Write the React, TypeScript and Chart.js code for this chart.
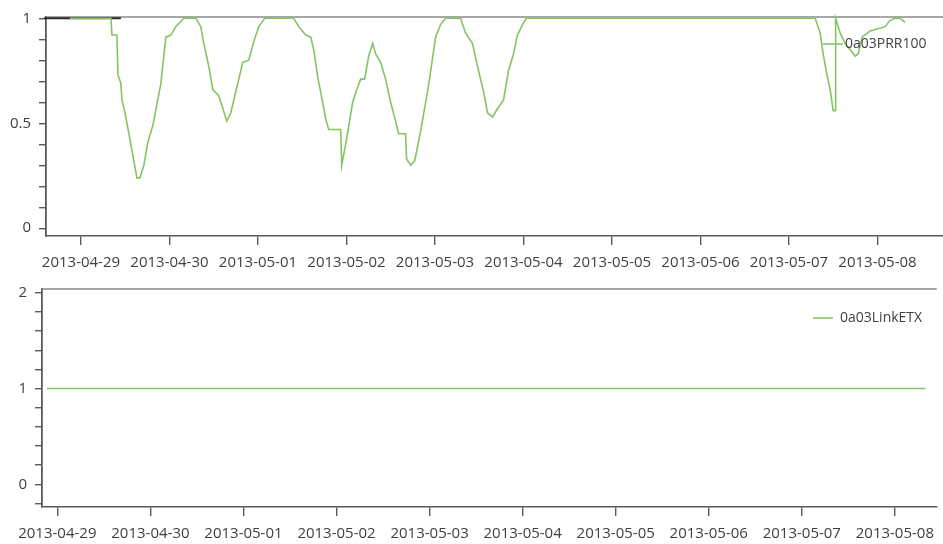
import React, { useEffect, useRef } from "react";
import { Chart, registerables } from "chart.js";

Chart.register(...registerables);

// ---- data ----
const DAY_TICKS = [0, 1, 2, 3, 4, 5, 6, 7, 8, 9];
const DAY_LABELS = [
  "2013-04-29", "2013-04-30", "2013-05-01", "2013-05-02", "2013-05-03",
  "2013-05-04", "2013-05-05", "2013-05-06", "2013-05-07", "2013-05-08",
];

const PRR_LABEL = "0a03PRR100";
// days since 2013-04-29 00:00
const PRR_DAYS = [
  -0.124, 0.339, 0.350, 0.406, 0.418, 0.451, 0.463, 0.497, 0.542, 0.598,
  0.632, 0.666, 0.711, 0.756, 0.813, 0.903, 0.959, 1.016, 1.072, 1.163,
  1.298, 1.354, 1.388, 1.445, 1.490, 1.558, 1.603, 1.648, 1.693, 1.749,
  1.828, 1.896, 1.953, 2.009, 2.077, 2.404, 2.460, 2.540, 2.596, 2.630,
  2.675, 2.731, 2.765, 2.799, 2.935, 2.946, 2.991, 3.070, 3.115, 3.160,
  3.205, 3.251, 3.296, 3.330, 3.386, 3.442, 3.499, 3.555, 3.589, 3.668,
  3.679, 3.725, 3.770, 3.837, 3.928, 4.007, 4.063, 4.120, 4.289, 4.345,
  4.424, 4.492, 4.549, 4.594, 4.650, 4.707, 4.774, 4.831, 4.887, 4.932,
  4.989, 5.034, 8.296, 8.352, 8.386, 8.420, 8.465, 8.499, 8.521, 8.527,
  8.578, 8.634, 8.691, 8.747, 8.781, 8.826, 8.916, 9.007, 9.086, 9.142,
  9.199, 9.255, 9.312,
];
const PRR_VALUES = [
  1.0, 1.0, 0.92, 0.92, 0.73, 0.69, 0.61, 0.55, 0.45, 0.32,
  0.24, 0.24, 0.30, 0.41, 0.49, 0.69, 0.91, 0.92, 0.96, 1.0,
  1.0, 0.96, 0.88, 0.77, 0.66, 0.63, 0.57, 0.51, 0.55, 0.65,
  0.79, 0.80, 0.89, 0.96, 1.0, 1.0, 0.96, 0.92, 0.91, 0.85,
  0.72, 0.60, 0.52, 0.47, 0.47, 0.30, 0.40, 0.60, 0.66, 0.71,
  0.71, 0.82, 0.88, 0.83, 0.79, 0.71, 0.60, 0.51, 0.45, 0.45,
  0.33, 0.30, 0.32, 0.46, 0.68, 0.91, 0.97, 1.0, 1.0, 0.93,
  0.88, 0.75, 0.65, 0.55, 0.53, 0.57, 0.61, 0.75, 0.83, 0.92,
  0.97, 1.0, 1.0, 0.93, 0.83, 0.75, 0.66, 0.56, 0.56, 1.0,
  0.93, 0.88, 0.85, 0.82, 0.83, 0.91, 0.94, 0.95, 0.96, 0.99,
  1.0, 1.0, 0.98,
];

const MARKER_DAYS = [-0.418, 0.451];
const MARKER_VALUES = [1, 1];

const ETX_LABEL = "0a03LinkETX";
const ETX_DAYS = [-0.112, 9.328];
const ETX_VALUES = [1, 1];

const PRR_Y_TICKS = [0, 0.1, 0.2, 0.3, 0.4, 0.5, 0.6, 0.7, 0.8, 0.9, 1];
const PRR_Y_LABELS = ["0", "0.5", "1"];
const ETX_Y_TICKS = [-0.2, 0, 0.2, 0.4, 0.6, 0.8, 1, 1.2, 1.4, 1.6, 1.8, 2];
const ETX_Y_LABELS = ["0", "1", "2"];

// ---- styles ----
const GREEN = "#84c462";
const AXIS = "#5a5a5a";
const TOP_BORDER = "#8a8a8a";
const TEXT = "#3f3f3f";
const FONT = "'Open Sans', 'Noto Sans', sans-serif";

const pts = (xs: number[], ys: number[]) => xs.map((x, i) => ({ x, y: ys[i] }));

const decorPlugin = {
  id: "panelDecor",
  beforeDatasetsDraw(chart: any) {
    const { ctx, chartArea } = chart;
    ctx.save();
    ctx.strokeStyle = TOP_BORDER;
    ctx.lineWidth = 1.6;
    ctx.beginPath();
    ctx.moveTo(chartArea.left, chartArea.top);
    ctx.lineTo(chartArea.right, chartArea.top);
    ctx.stroke();
    ctx.restore();
  },
  afterDatasetsDraw(chart: any, _args: any, opts: any) {
    const { ctx } = chart;
    const ds = chart.data.datasets[0];
    ctx.save();
    ctx.strokeStyle = ds.borderColor;
    ctx.lineWidth = 1.6;
    ctx.beginPath();
    ctx.moveTo(opts.lineX, opts.y);
    ctx.lineTo(opts.lineX + opts.lineLen, opts.y);
    ctx.stroke();
    ctx.fillStyle = TEXT;
    ctx.font = `14px ${FONT}`;
    ctx.textBaseline = "middle";
    ctx.textAlign = "left";
    ctx.fillText(ds.label, opts.textX, opts.y);
    ctx.restore();
  },
};

type PanelProps = {
  top: number;
  height: number;
  datasets: any[];
  yMin: number;
  yMax: number;
  yTicks: number[];
  yLabels: string[];
  xMin: number;
  xMax: number;
  area: { left: number; top: number; bottom: number };
  legend: { lineX: number; lineLen: number; textX: number; y: number };
};

function Panel(p: PanelProps) {
  const ref = useRef<HTMLCanvasElement | null>(null);
  useEffect(() => {
    if (!ref.current) return;
    const chart = new Chart(ref.current, {
      type: "line",
      data: { datasets: p.datasets },
      plugins: [decorPlugin],
      options: {
        animation: false,
        responsive: false,
        devicePixelRatio: 1,
        layout: { padding: { top: p.area.top, left: 0, right: 0, bottom: 0 } },
        elements: { point: { radius: 0 } },
        plugins: {
          legend: { display: false },
          tooltip: { enabled: false },
          panelDecor: p.legend,
        } as any,
        scales: {
          x: {
            type: "linear",
            min: p.xMin,
            max: p.xMax,
            afterBuildTicks: (s: any) => {
              s.ticks = DAY_TICKS.map((v) => ({ value: v }));
            },
            afterFit: (s: any) => {
              s.height = p.height - p.area.bottom;
            },
            border: { display: true, color: AXIS, width: 1.6 },
            grid: { display: true, drawOnChartArea: false, drawTicks: true, tickLength: 9, color: AXIS, lineWidth: 1.4 },
            ticks: {
              autoSkip: false,
              maxRotation: 0,
              padding: 9,
              color: TEXT,
              font: { family: FONT, size: 15 },
              callback: (v: any) => {
                const i = DAY_TICKS.indexOf(Number(v));
                return i >= 0 ? DAY_LABELS[i] : "";
              },
            },
          },
          y: {
            type: "linear",
            min: p.yMin,
            max: p.yMax,
            afterBuildTicks: (s: any) => {
              s.ticks = p.yTicks.map((v) => ({ value: v }));
            },
            afterFit: (s: any) => {
              s.width = p.area.left;
            },
            border: { display: true, color: AXIS, width: 1.8 },
            grid: { display: true, drawOnChartArea: false, drawTicks: true, tickLength: 7, color: AXIS, lineWidth: 1.4 },
            ticks: {
              autoSkip: false,
              padding: 8,
              color: TEXT,
              font: { family: FONT, size: 15 },
              callback: (v: any) => {
                const s = String(Math.round(Number(v) * 10) / 10);
                return p.yLabels.indexOf(s) >= 0 ? s : "";
              },
            },
          },
        },
      } as any,
    });
    return () => chart.destroy();
  }, []);
  return (
    <canvas
      ref={ref}
      width={943}
      height={p.height}
      style={{ position: "absolute", left: 0, top: p.top, width: 943, height: p.height }}
    />
  );
}

export default function App() {
  const prrDatasets = [
    {
      label: PRR_LABEL,
      data: pts(PRR_DAYS, PRR_VALUES),
      borderColor: GREEN,
      borderWidth: 1.6,
      fill: false,
      tension: 0,
      clip: 3,
      order: 0,
    },
    {
      label: "",
      data: pts(MARKER_DAYS, MARKER_VALUES),
      borderColor: "#2a2a2a",
      borderWidth: 2,
      fill: false,
      clip: false,
      order: 1,
    },
  ];
  const etxDatasets = [
    {
      label: ETX_LABEL,
      data: pts(ETX_DAYS, ETX_VALUES),
      borderColor: GREEN,
      borderWidth: 1.6,
      fill: false,
      tension: 0,
    },
  ];
  return (
    <div style={{ position: "absolute", left: 0, top: 0, width: 943, height: 544, background: "#fff", overflow: "hidden" }}>
      <Panel
        top={0}
        height={272}
        datasets={prrDatasets}
        yMin={-0.037}
        yMax={1.006}
        yTicks={PRR_Y_TICKS}
        yLabels={PRR_Y_LABELS}
        xMin={-0.395}
        xMax={9.74}
        area={{ left: 46, top: 13, bottom: 236 }}
        legend={{ lineX: 823, lineLen: 20, textX: 845, y: 44 }}
      />
      <Panel
        top={272}
        height={272}
        datasets={etxDatasets}
        yMin={-0.237}
        yMax={2.04}
        yTicks={ETX_Y_TICKS}
        yLabels={ETX_Y_LABELS}
        xMin={-0.165}
        xMax={9.45}
        area={{ left: 42, top: 14, bottom: 235 }}
        legend={{ lineX: 813, lineLen: 20, textX: 840, y: 46 }}
      />
    </div>
  );
}
